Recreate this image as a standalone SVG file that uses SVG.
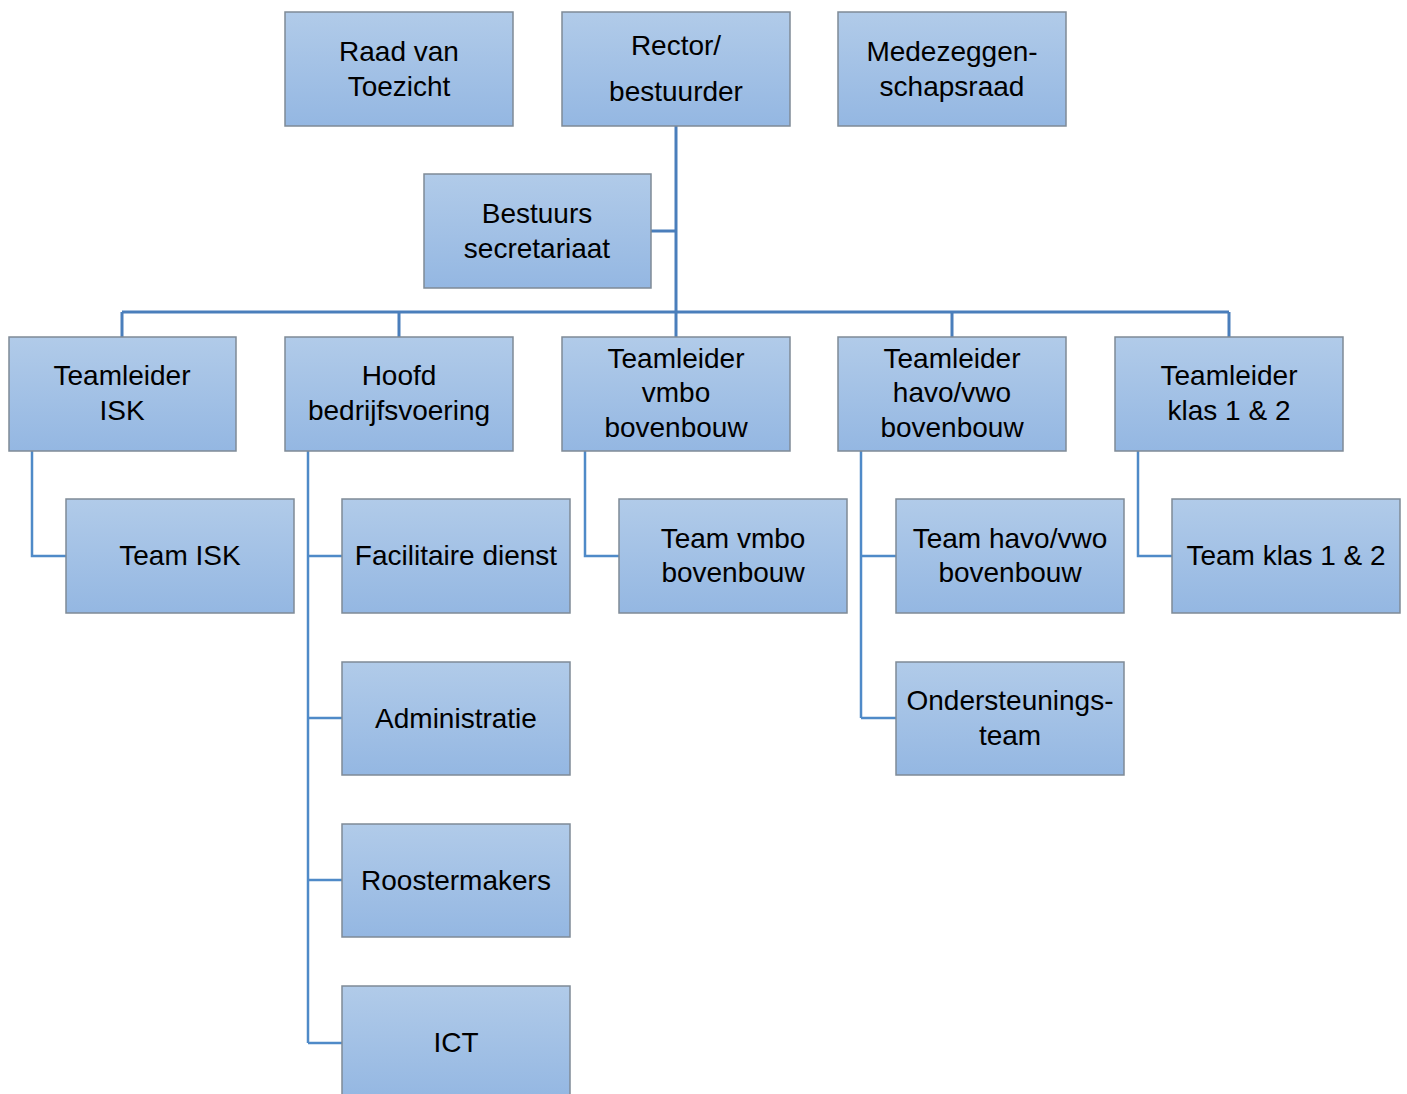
<svg xmlns="http://www.w3.org/2000/svg" width="1407" height="1094" viewBox="0 0 1407 1094">
<defs>
<linearGradient id="g" x1="0" y1="0" x2="0" y2="1">
<stop offset="0" stop-color="#B1CBE9"/>
<stop offset="1" stop-color="#94B7E2"/>
</linearGradient>
</defs>
<style>
.b{fill:url(#g);stroke:#7F8A96;stroke-width:1.5}
.t{font-family:"Liberation Sans",Arial,sans-serif;font-size:28px;fill:#000;text-anchor:middle}
.c1{fill:none;stroke:#4A7EBB;stroke-width:3}
.c2{fill:none;stroke:#4F8AC8;stroke-width:2.5}
</style>
<rect width="1407" height="1094" fill="#fff"/>
<g id="connectors">
<path class="c1" d="M676 126V312M651 231H676M122 312H1229M122 312V337M399 312V337M676 312V337M952 312V337M1229 312V337"/>
<path class="c2" d="M32 451V556H66M308 451V1043M308 556H342M308 718H342M308 880H342M308 1043H342M585 451V556H619M861 451V718M861 556H896M861 718H896M1138 451V556H1172"/>
</g>
<g id="raad"><rect class="b" x="285" y="12" width="228" height="114"/><text class="t" x="399" y="61">Raad van</text><text class="t" x="399" y="96">Toezicht</text></g>
<g id="rector"><rect class="b" x="562" y="12" width="228" height="114"/><text class="t" x="676" y="55">Rector/</text><text class="t" x="676" y="101">bestuurder</text></g>
<g id="mr"><rect class="b" x="838" y="12" width="228" height="114"/><text class="t" x="952" y="61">Medezeggen-</text><text class="t" x="952" y="96">schapsraad</text></g>
<g id="secretariaat"><rect class="b" x="424" y="174" width="227" height="114"/><text class="t" x="537" y="223">Bestuurs</text><text class="t" x="537" y="258">secretariaat</text></g>
<g id="tl-isk"><rect class="b" x="9" y="337" width="227" height="114"/><text class="t" x="122" y="385">Teamleider</text><text class="t" x="122" y="420">ISK</text></g>
<g id="hoofd"><rect class="b" x="285" y="337" width="228" height="114"/><text class="t" x="399" y="385">Hoofd</text><text class="t" x="399" y="420">bedrijfsvoering</text></g>
<g id="tl-vmbo"><rect class="b" x="562" y="337" width="228" height="114"/><text class="t" x="676" y="368">Teamleider</text><text class="t" x="676" y="402">vmbo</text><text class="t" x="676" y="437">bovenbouw</text></g>
<g id="tl-havo"><rect class="b" x="838" y="337" width="228" height="114"/><text class="t" x="952" y="368">Teamleider</text><text class="t" x="952" y="402">havo/vwo</text><text class="t" x="952" y="437">bovenbouw</text></g>
<g id="tl-klas"><rect class="b" x="1115" y="337" width="228" height="114"/><text class="t" x="1229" y="385">Teamleider</text><text class="t" x="1229" y="420">klas 1 &amp; 2</text></g>
<g id="team-isk"><rect class="b" x="66" y="499" width="228" height="114"/><text class="t" x="180" y="565">Team ISK</text></g>
<g id="facilitair"><rect class="b" x="342" y="499" width="228" height="114"/><text class="t" x="456" y="565">Facilitaire dienst</text></g>
<g id="team-vmbo"><rect class="b" x="619" y="499" width="228" height="114"/><text class="t" x="733" y="548">Team vmbo</text><text class="t" x="733" y="582">bovenbouw</text></g>
<g id="team-havo"><rect class="b" x="896" y="499" width="228" height="114"/><text class="t" x="1010" y="548">Team havo/vwo</text><text class="t" x="1010" y="582">bovenbouw</text></g>
<g id="team-klas"><rect class="b" x="1172" y="499" width="228" height="114"/><text class="t" x="1286" y="565">Team klas 1 &amp; 2</text></g>
<g id="administratie"><rect class="b" x="342" y="662" width="228" height="113"/><text class="t" x="456" y="728">Administratie</text></g>
<g id="ondersteuning"><rect class="b" x="896" y="662" width="228" height="113"/><text class="t" x="1010" y="710">Ondersteunings-</text><text class="t" x="1010" y="745">team</text></g>
<g id="rooster"><rect class="b" x="342" y="824" width="228" height="113"/><text class="t" x="456" y="890">Roostermakers</text></g>
<g id="ict"><rect class="b" x="342" y="986" width="228" height="113"/><text class="t" x="456" y="1052">ICT</text></g>
</svg>
